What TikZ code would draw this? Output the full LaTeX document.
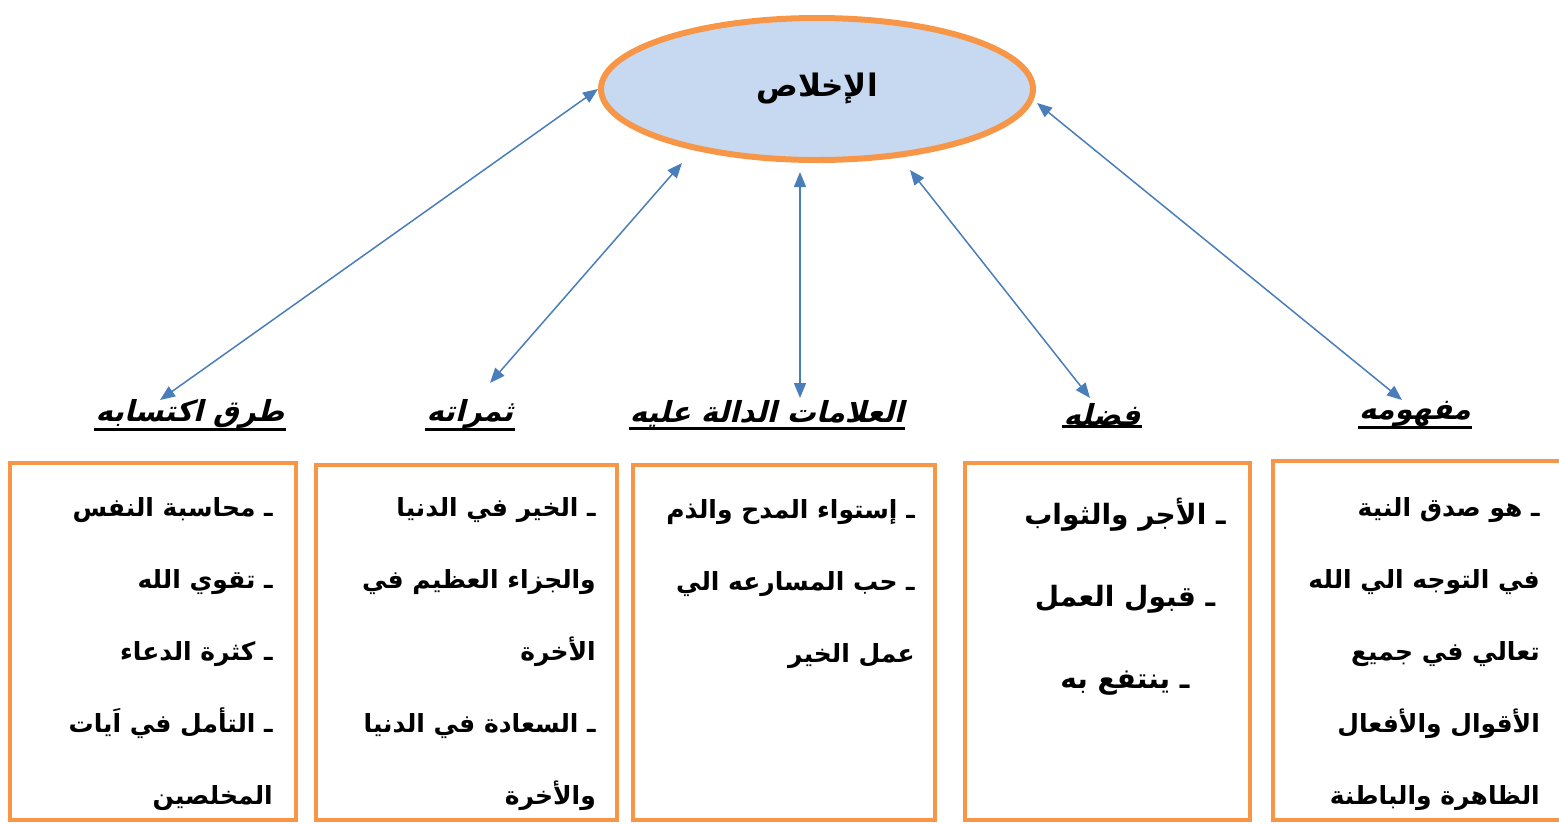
\documentclass[tikz,border=0pt]{standalone}
\usepackage{fontspec}
\usetikzlibrary{shapes.geometric,arrows.meta}
\TeXXeTstate=1
\newfontfamily\arabicfont[Script=Arabic]{DejaVu Sans}
\newfontfamily\headfont[Script=Arabic,FakeSlant=0.25]{DejaVu Sans Bold}
\definecolor{ikhorange}{HTML}{F79646}
\definecolor{ikhfill}{HTML}{C6D9F1}
\definecolor{linkblue}{HTML}{4A7EBB}
\tikzset{
  heading/.style={font=\headfont\fontsize{29}{32}\selectfont, inner sep=1pt},
  listbox/.style={draw=ikhorange, line width=4pt, fill=white},
  listtext/.style={font=\arabicfont\bfseries\fontsize{25}{72}\selectfont, align=right, inner sep=0pt, anchor=north east},
  link/.style={linkblue, line width=1.5pt, {Triangle[length=15pt,width=12pt]}-{Triangle[length=15pt,width=12pt]}}
}
\begin{document}
\begin{tikzpicture}[x=1pt,y=-1pt]
    \useasboundingbox (0,0) rectangle (1559,823);

    % centre
    \node[ellipse, draw=ikhorange, line width=6pt, fill=ikhfill, minimum width=432pt, minimum height=142pt,
          font=\arabicfont\bfseries\fontsize{31}{34}\selectfont] (core) at (817,89) {\beginR الإخلاص\endR};

    % headings
    \node[heading] (h1) at (190,414) {\beginR طرق اكتسابه\endR};
    \node[heading] (h2) at (470,414) {\beginR ثمراته\endR};
    \node[heading] (h3) at (767,414) {\beginR العلامات الدالة عليه\endR};
    \node[heading] (h4) at (1102,414) {\beginR فضله\endR};
    \node[heading] (h5) at (1415,414) {\beginR مفهومه\endR};
    \foreach \h in {h1,h2,h3,h4,h5}
        \draw[line width=3pt] (\h.south west) -- (\h.south east);

    % arrow ends
    \coordinate (e2) at (682,163);
    \coordinate (e3) at (800,172);
    \coordinate (e4) at (910,170);
    \coordinate (e5) at (1037,103);
    \coordinate (t1) at (160,400);
    \coordinate (t2) at (490,383);
    \coordinate (t3) at (800,398);
    \coordinate (t4) at (1090,398);
    \coordinate (t5) at (1402,400);

    \draw[link] (core.west) -- (t1);
    \draw[link] (e2) -- (t2);
    \draw[link] (e3) -- (t3);
    \draw[link] (e4) -- (t4);
    \draw[link] (e5) -- (t5);

    % boxes
    \draw[listbox] (10,463) rectangle (296,820);
    \draw[listbox] (316,465) rectangle (617,820);
    \draw[listbox] (633,465) rectangle (935,820);
    \draw[listbox] (965,463) rectangle (1250,820);
    \draw[listbox] (1273,461) rectangle (1570,820);

    \node[listtext] (l1) at (273,497) {\beginR ـ محاسبة النفس\endR\\ \beginR ـ تقوي الله\endR\\ \beginR ـ كثرة الدعاء\endR\\ \beginR ـ التأمل في اَيات\endR\\ \beginR المخلصين\endR};
    \node[listtext] (l2) at (596,497) {\beginR ـ الخير في الدنيا\endR\\ \beginR والجزاء العظيم في\endR\\ \beginR الأخرة\endR\\ \beginR ـ السعادة في الدنيا\,\,\endR\\ \beginR والأخرة\endR};
    \node[listtext] (l3) at (915,499) {\beginR ـ إستواء المدح والذم\endR\\ \beginR ـ حب المسارعه الي\endR\\ \beginR عمل الخير\endR};
    \node[listtext, align=center, anchor=north, font=\arabicfont\bfseries\fontsize{28}{82}\selectfont] (l4) at (1125,498) {\beginR ـ الأجر والثواب\endR\\ \beginR ـ قبول العمل\endR\\ \beginR ـ ينتفع به\endR};
    \node[listtext] (l5) at (1540,497) {\beginR ـ هو صدق النية\endR\\ \beginR في التوجه الي الله\endR\\ \beginR تعالي في جميع\endR\\ \beginR الأقوال والأفعال\endR\\ \beginR الظاهرة والباطنة\endR};
\end{tikzpicture}
\end{document}
